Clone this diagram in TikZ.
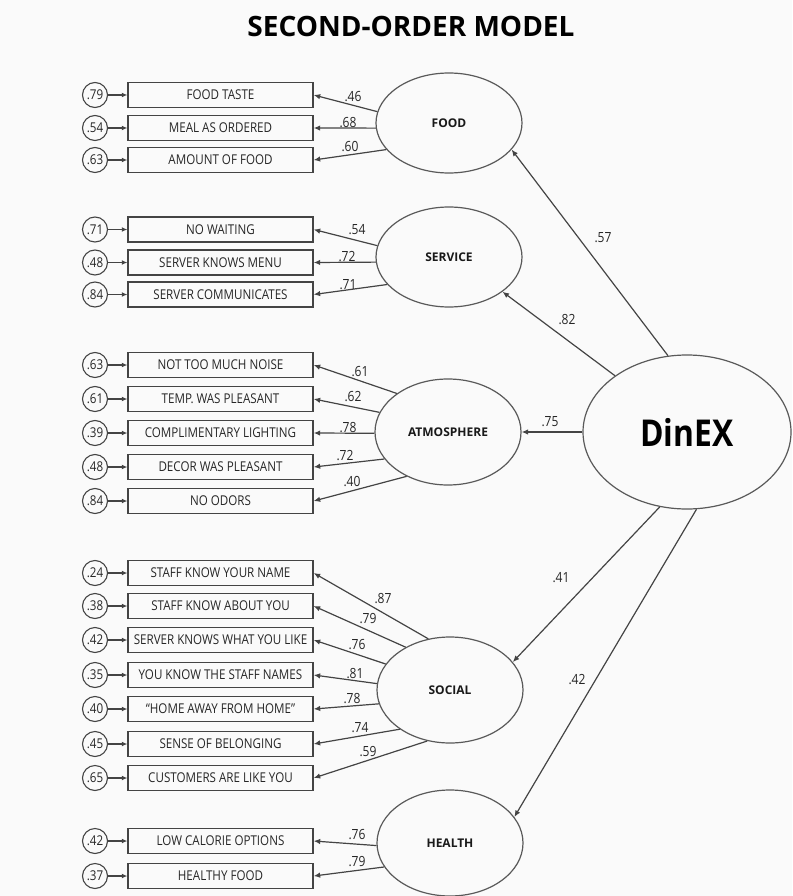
\documentclass[tikz,border=0pt]{standalone}
\usepackage{fontspec}
\setmainfont{Open Sans}
\newfontfamily\condfont[FakeStretch=0.86]{Open Sans}
\usetikzlibrary{arrows.meta,shapes.geometric}
\definecolor{bg}{HTML}{FAFAFA}
\definecolor{ln}{HTML}{444444}
\begin{document}
\begin{tikzpicture}[x=1pt,y=-1pt,
  ind/.style={draw=ln,line width=1.4pt,minimum width=185pt,minimum height=25pt,inner sep=0pt,font=\condfont\fontsize{13.5}{14}\selectfont,text=black!85},
  err/.style={circle,draw=ln,line width=1.1pt,minimum size=25pt,inner sep=0pt,font=\condfont\fontsize{13.5}{14}\selectfont,text=black!85},
  lat/.style={ellipse,draw=black!65,line width=1.2pt,minimum width=146pt,minimum height=106pt,inner sep=0pt,font=\bfseries\fontsize{12}{13}\selectfont,text=black!90},
  ld/.style={draw=ln,line width=1.2pt,-{Latex[length=6.5pt,width=5.5pt]}},
  ea/.style={draw=ln,line width=1.2pt,-{Latex[length=5.5pt,width=5pt]}},
  num/.style={font=\condfont\fontsize{14}{15}\selectfont,inner sep=0pt,text=black!85},
]
\fill[bg] (0,0) rectangle (792,896);
\useasboundingbox (0,0) rectangle (792,896);

\node[font=\bfseries\fontsize{28}{30}\selectfont] (title) at (411,26) {SECOND-ORDER MODEL};

% ---------- latent variables
\node[lat,minimum height=100pt] (food) at (449,123) {FOOD};
\node[lat,minimum height=100pt] (serv) at (449,257) {SERVICE};
\node[lat] (atm) at (448,432) {ATMOSPHERE};
\node[lat] (soc) at (450,690) {SOCIAL};
\node[lat] (hea) at (450,843) {HEALTH};
\node[ellipse,draw=black!65,line width=1.2pt,minimum width=208pt,minimum height=154pt,inner sep=0pt,font=\bfseries\fontsize{37}{40}\selectfont] (din) at (687,432) {\condfont\bfseries DinEX};

% ---------- indicators and errors
\newcommand{\indic}[4]{%
  \node[ind] (#1) at (220.5,#2) {#3};
  \node[err] (e#1) at (95,#2) {#4};
  \draw[ea] (e#1) -- (#1);
}
\indic{f1}{95}{FOOD TASTE}{.79}
\indic{f2}{128}{MEAL AS ORDERED}{.54}
\indic{f3}{160}{AMOUNT OF FOOD}{.63}
\indic{s1}{229.5}{NO WAITING}{.71}
\indic{s2}{262.5}{SERVER KNOWS MENU}{.48}
\indic{s3}{294.5}{SERVER COMMUNICATES}{.84}
\indic{a1}{365}{NOT TOO MUCH NOISE}{.63}
\indic{a2}{399}{TEMP. WAS PLEASANT}{.61}
\indic{a3}{433}{COMPLIMENTARY LIGHTING}{.39}
\indic{a4}{467}{DECOR WAS PLEASANT}{.48}
\indic{a5}{501}{NO ODORS}{.84}
\indic{c1}{573}{STAFF KNOW YOUR NAME}{.24}
\indic{c2}{606}{STAFF KNOW ABOUT YOU}{.38}
\indic{c3}{640}{SERVER KNOWS WHAT YOU LIKE}{.42}
\indic{c4}{675}{YOU KNOW THE STAFF NAMES}{.35}
\indic{c5}{709}{“HOME AWAY FROM HOME”}{.40}
\indic{c6}{744}{SENSE OF BELONGING}{.45}
\indic{c7}{778}{CUSTOMERS ARE LIKE YOU}{.65}
\indic{h1}{841}{LOW CALORIE OPTIONS}{.42}
\indic{h2}{876}{HEALTHY FOOD}{.37}

% ---------- loadings
\draw[ld] (food.171) -- (f1.east);
\draw[ld] (food.184) -- (f2.east);
\draw[ld] (food.203) -- (f3.east);
\node[num] (lf1) at (353,97) {.46};
\node[num] (lf2) at (348,123) {.68};
\node[num] (lf3) at (350,147) {.60};

\draw[ld] (serv.171) -- (s1.east);
\draw[ld] (serv.184) -- (s2.east);
\draw[ld] (serv.204) -- (s3.east);
\node[num] (ls1) at (357,230) {.54};
\node[num] (ls2) at (347,257) {.72};
\node[num] (ls3) at (348,285) {.71};

\draw[ld] (atm.143) -- (a1.east);
\draw[ld] (atm.164) -- (a2.east);
\draw[ld] (atm.181) -- (a3.east);
\draw[ld] (atm.203) -- (a4.east);
\draw[ld] (atm.227) -- (a5.east);
\node[num] (la1) at (360,372) {.61};
\node[num] (la2) at (353,397) {.62};
\node[num] (la3) at (348,428) {.78};
\node[num] (la4) at (345,456) {.72};
\node[num] (la5) at (352,482) {.40};

\draw[ld] (soc.113) -- (c1.east);
\draw[ld] (soc.136) -- (c2.east);
\draw[ld] (soc.158) -- (c3.east);
\draw[ld] (soc.175) -- (c4.east);
\draw[ld] (soc.191) -- (c5.east);
\draw[ld] (soc.218) -- (c6.east);
\draw[ld] (soc.246) -- (c7.east);
\node[num] (lc1) at (383,599) {.87};
\node[num] (lc2) at (368,619) {.79};
\node[num] (lc3) at (357,645) {.76};
\node[num] (lc4) at (355,674) {.81};
\node[num] (lc5) at (352,699) {.78};
\node[num] (lc6) at (360,728) {.74};
\node[num] (lc7) at (368,752) {.59};

\draw[ld] (hea.182) -- (h1.east);
\draw[ld] (hea.200) -- (h2.east);
\node[num] (lh1) at (357,835) {.76};
\node[num] (lh2) at (357,862) {.79};

% ---------- second order paths
\draw[ld] (din.104) -- (food.337);
\draw[ld] (din.142) -- (serv.327);
\draw[ld] (din.west) -- (atm.east);
\draw[ld] (din.250) -- (soc.24);
\draw[ld] (din.277) -- (hea.22);
\node[num] (d1) at (603,238) {.57};
\node[num] (d2) at (567,320) {.82};
\node[num] (d3) at (550,422) {.75};
\node[num] (d4) at (561,578) {.41};
\node[num] (d5) at (577,680) {.42};
\end{tikzpicture}
\end{document}
